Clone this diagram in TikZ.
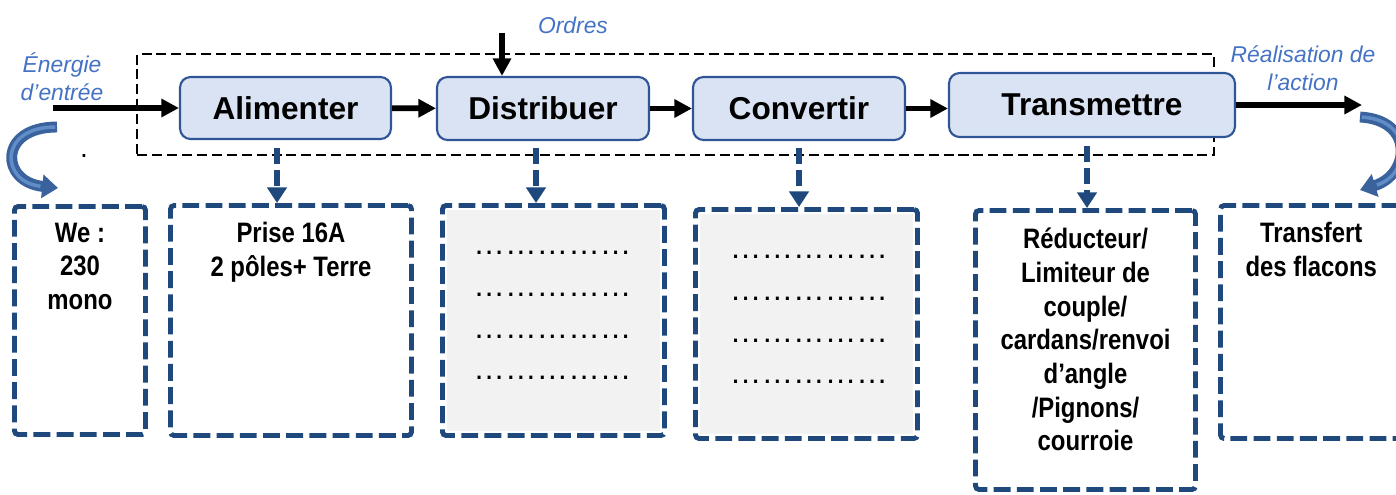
\documentclass[tikz,border=0pt]{standalone}
\usepackage{fontspec}
\setmainfont{Liberation Sans}
\newfontfamily\etroit{Liberation Sans}[FakeStretch=0.85]
\usetikzlibrary{arrows.meta,calc}
\definecolor{BleuFonction}{RGB}{218,227,243}
\definecolor{BordFonction}{RGB}{47,85,151}
\definecolor{BleuFonce}{RGB}{31,73,125}
\definecolor{BleuTexte}{RGB}{68,114,196}
\definecolor{BleuCourbe}{RGB}{58,98,156}
\definecolor{BleuReflet}{RGB}{96,140,200}
\definecolor{GrisClair}{RGB}{242,242,242}
\tikzset{
  fonction/.style={draw=BordFonction,fill=BleuFonction,line width=1.2pt,
    rounded corners=6pt,inner sep=0pt,font=\fontsize{18}{21}\selectfont\bfseries},
  bloc/.style={draw=BleuFonce,line width=2.8pt,dash pattern=on 9.6pt off 3.6pt,
    rounded corners=2pt,inner sep=0pt},
  contenu/.style={anchor=north,inner sep=0pt,align=center,
    font=\etroit\bfseries\fontsize{16}{19.2}\selectfont},
  pointilles/.style={inner sep=0pt,align=center,font=\fontsize{18}{23.8}\selectfont},
  cadre/.style={draw,line width=1.1pt,dash pattern=on 5.7pt off 2.8pt,inner sep=0pt},
  flux/.style={-{Triangle[length=10pt,width=10pt]},line width=3.2pt},
  descente/.style={-{Triangle[length=9pt,width=11pt]},line width=3.4pt,BleuFonce,
    dash pattern=on 9pt off 3.5pt},
  courbe/.style={-{Triangle[length=9pt,width=13pt]},line width=6.2pt,BleuCourbe},
  reflet/.style={line width=2pt,BleuReflet,shorten >=10pt,shorten <=1pt},
  etiquette/.style={inner sep=0pt,align=center,text=BleuTexte,
    font=\itshape\fontsize{13}{16}\selectfont}
}
\begin{document}
\begin{tikzpicture}[x=0.02cm,y=-0.02cm]
  \clip (0,0) rectangle (1396,494);

  % chaine d'energie
  \node[cadre,minimum width=21.54cm,minimum height=2.02cm] (chaine) at (675.5,104.5) {};
  \node[fonction,minimum width=4.22cm,minimum height=1.24cm] (alim) at (285.5,108) {Alimenter};
  \node[fonction,minimum width=4.24cm,minimum height=1.26cm] (distrib) at (543,108.5) {Distribuer};
  \node[fonction,minimum width=4.24cm,minimum height=1.26cm] (conv) at (799,108.5) {Convertir};
  \node[fonction,minimum width=5.72cm,minimum height=1.28cm] (trans) at (1092,105) {Transmettre};

  \coordinate (entree) at (53,108);
  \coordinate (sortie) at (1362,103);
  \coordinate (ordres) at (502,33);
  \draw[flux] (entree) -- (alim.west);
  \draw[flux] (alim) -- (distrib);
  \draw[flux] (distrib) -- (conv);
  \draw[flux] (conv.east) -- (conv.east -| trans.west);
  \draw[flux] (trans.east) -- (trans.east -| sortie);
  \draw[flux] (ordres) -- (ordres |- distrib.north);

  \node[etiquette,anchor=base] (lordres) at (573,33) {Ordres};
  \node[etiquette] (lentree) at (62,76.5) {Énergie\\d’entrée};
  \node[etiquette] (lsortie) at (1303,68.5) {Réalisation de\\l’action};
  \node[inner sep=0pt,anchor=base,font=\fontsize{16}{19}\selectfont] (point) at (84,157) {.};

  % fleches courbes
  \draw[courbe] (57,127) .. controls (-2,127) and (0,182) .. (58,188);
  \draw[reflet] (57,127) .. controls (-2,127) and (0,182) .. (58,188);
  \draw[courbe] (1360,117) .. controls (1415,120) and (1410,175) .. (1360,190);
  \draw[reflet] (1360,117) .. controls (1415,120) and (1410,175) .. (1360,190);

  % blocs du bas
  \node[bloc,minimum width=2.62cm,minimum height=4.56cm] (we) at (80,320.5) {};
  \node[bloc,minimum width=4.82cm,minimum height=4.6cm] (prise) at (291,320.5) {};
  \node[bloc,minimum width=4.44cm,minimum height=4.6cm] (bdist) at (553.5,320.5) {};
  \node[bloc,minimum width=4.44cm,minimum height=4.58cm] (bconv) at (806.5,324) {};
  \node[bloc,minimum width=4.4cm,minimum height=5.58cm] (bred) at (1085.5,350) {};
  \node[bloc,minimum width=3.63cm,minimum height=4.66cm] (btrans) at (1311.25,322) {};

  \fill[GrisClair] ([shift={(6.5,6.5)}]bdist.north west) rectangle ([shift={(-6.5,-6.5)}]bdist.south east);
  \fill[GrisClair] ([shift={(6.5,6.5)}]bconv.north west) rectangle ([shift={(-6.5,-6.5)}]bconv.south east);

  \node[contenu] (twe) at ([shift={(0,18.5)}]we.north) {We :\\230\\mono};
  \node[contenu] (tprise) at ([shift={(0,18.5)}]prise.north) {Prise 16A\\2 pôles+ Terre};
  \node[pointilles] (tdist) at (552.5,315.5) {……………\\……………\\……………\\……………};
  \node[pointilles] (tconv) at (809,319.5) {……………\\……………\\……………\\……………};
  \node[contenu] (tred) at ([shift={(0,19.5)}]bred.north)
    {Réducteur/\\Limiteur de\\couple/\\cardans/renvoi\\d’angle\\/Pignons/\\courroie};
  \node[contenu] (ttrans) at ([shift={(0,18.5)}]btrans.north) {Transfert\\des flacons};

  % liaisons vers les solutions
  \coordinate (d1) at ([shift={(-8.5,8)}]alim.south);
  \coordinate (d2) at ([shift={(-7,7)}]distrib.south);
  \coordinate (d3) at ([shift={(0,7)}]conv.south);
  \coordinate (d4) at ([shift={(-5,8)}]trans.south);
  \draw[descente] (d1) -- (d1 |- prise.north);
  \draw[descente] (d2) -- (d2 |- bdist.north);
  \draw[descente] (d3) -- (d3 |- bconv.north);
  \draw[descente] (d4) -- (d4 |- bred.north);
\end{tikzpicture}
\end{document}
